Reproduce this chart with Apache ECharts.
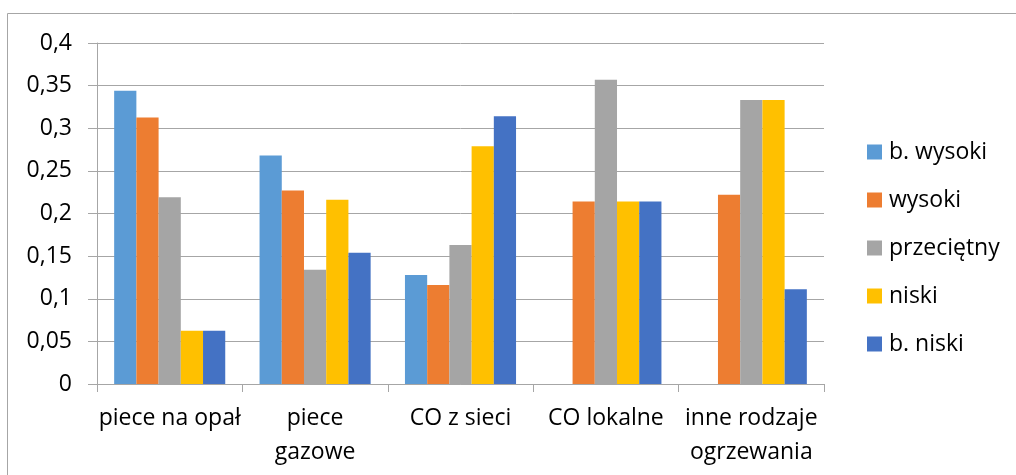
<!DOCTYPE html>
<html><head><meta charset="utf-8">
<script src="https://cdn.jsdelivr.net/npm/echarts@6/dist/echarts.min.js"></script>
<style>html,body{margin:0;padding:0;background:#fff}#c{width:1016px;height:475px}</style>
</head><body><div id="c"></div>
<script>
const categories = ['piece na opał', 'piece\ngazowe', 'CO z sieci', 'CO lokalne', 'inne rodzaje\nogrzewania'];
const seriesNames = ['b. wysoki', 'wysoki', 'przeciętny', 'niski', 'b. niski'];
const bWysoki    = [0.344, 0.268, 0.128, 0,     0];
const wysoki     = [0.3125, 0.227, 0.116, 0.214, 0.222];
const przecietny = [0.219, 0.134, 0.163, 0.357, 0.333];
const niski      = [0.0625, 0.216, 0.279, 0.214, 0.333];
const bNiski     = [0.0625, 0.154, 0.314, 0.214, 0.111];
const yTicks = [0, 0.05, 0.1, 0.15, 0.2, 0.25, 0.3, 0.35, 0.4];

const colors = ['#5B9BD5', '#ED7D31', '#A5A5A5', '#FFC000', '#4472C4'];
const dataSets = [bWysoki, wysoki, przecietny, niski, bNiski];
const FONT = 'Open Sans';
const chart = echarts.init(document.getElementById('c'));
chart.setOption({
  animation: false,
  color: colors,
  textStyle: { fontFamily: FONT },
  graphic: [{ type: 'rect', shape: { x: 7.5, y: 13.5, width: 1100, height: 600 },
    style: { fill: 'none', stroke: '#A6A6A6', lineWidth: 1 }, silent: true }],
  grid: { left: 97, right: 192, top: 43, bottom: 91, containLabel: false },
  legend: {
    orient: 'vertical', left: 867, top: 140, padding: 0, itemWidth: 15, itemHeight: 15, itemGap: 24,
    icon: 'rect', data: seriesNames,
    textStyle: { fontSize: 23, lineHeight: 24, color: '#000', fontFamily: FONT, padding: [0,0,0,2] }
  },
  xAxis: {
    type: 'category', data: categories,
    axisLine: { lineStyle: { color: '#A6A6A6', width: 1 } },
    axisTick: { show: true, length: 8, lineStyle: { color: '#A6A6A6' } },
    axisLabel: { interval: 0, fontSize: 23, lineHeight: 34, color: '#000', margin: 17, fontFamily: FONT }
  },
  yAxis: {
    type: 'value', min: 0, max: 0.4, interval: 0.05,
    axisLine: { show: true, lineStyle: { color: '#A6A6A6', width: 1 } },
    axisTick: { show: true, length: 9, lineStyle: { color: '#A6A6A6' } },
    splitLine: { lineStyle: { color: '#A6A6A6', width: 1 } },
    axisLabel: { fontSize: 23, color: '#000', margin: 25, fontFamily: FONT,
      formatter: v => String(+(+v).toFixed(2)).replace('.', ',') }
  },
  series: seriesNames.map((n, i) => ({
    name: n, type: 'bar', data: dataSets[i], barGap: '0%', barCategoryGap: '23.6%'
  }))
});
</script></body></html>
